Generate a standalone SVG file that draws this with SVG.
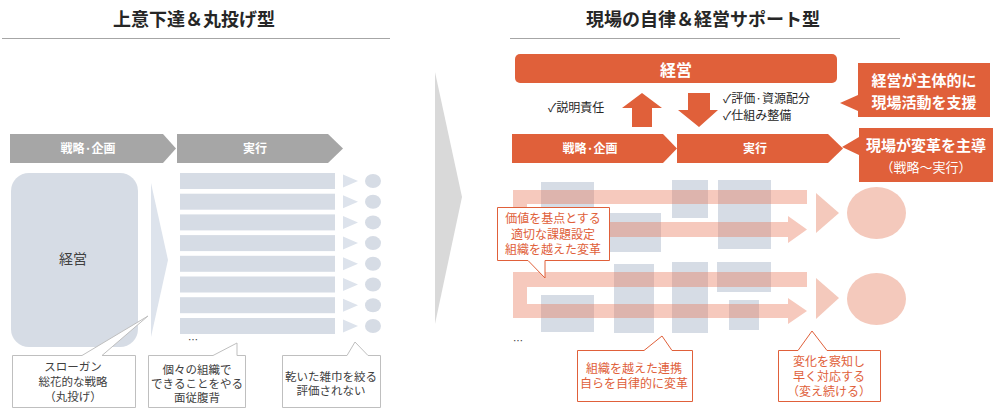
<svg xmlns="http://www.w3.org/2000/svg" width="1001" height="413" viewBox="0 0 1001 413">
<style>
text{font-family:"Noto Sans CJK JP","Noto Sans",sans-serif;}
.title{font-size:18px;font-weight:bold;fill:#262626;text-anchor:middle;}
.chevG{fill:#a6a6a6;}
.chevO{fill:#e0603a;}
.chevT{font-size:12px;font-weight:bold;fill:#fff;text-anchor:middle;}
.blue{fill:#d6dce5;}
.lblue{fill:#dde3ec;}
.gtxt{font-size:11.5px;fill:#404040;text-anchor:middle;}
.gcall{fill:#fff;stroke:#bfbfbf;stroke-width:1;}
.ocall{fill:#fff;stroke:#e0603a;stroke-width:1;}
.otxt{font-size:12px;fill:#e0603a;text-anchor:middle;}
.wtxt{font-size:15px;font-weight:bold;fill:#fff;text-anchor:middle;}
.band{fill:#e8785a;opacity:0.4;}
.pink{fill:#f4c9bc;}
.dtxt{font-size:12px;fill:#262626;}
</style>
<!-- titles -->
<g id="title-left">
<text class="title" x="194" y="26">上意下達＆丸投げ型</text>
<line x1="2" y1="38.5" x2="390" y2="38.5" stroke="#a6a6a6" stroke-width="1"/>
</g>
<g id="title-right">
<text class="title" x="703" y="26">現場の自律＆経営サポート型</text>
<line x1="510" y1="38.5" x2="900" y2="38.5" stroke="#a6a6a6" stroke-width="1"/>
</g>
<!-- big middle arrow -->
<g id="transition-arrow"><polygon points="435,72 462,197 435,324" fill="#d9d9d9"/></g>

<!-- LEFT PANEL -->
<g id="left-chev-strategy">
<polygon class="chevG" points="10,134 163,134 176,148.5 163,163 10,163"/>
<text class="chevT" x="88" y="153">戦略·企画</text>
</g>
<g id="left-chev-exec">
<polygon class="chevG" points="177,134 328,134 343,148.5 328,163 177,163"/>
<text class="chevT" x="255" y="153">実行</text>
</g>
<g id="left-mgmt">
<rect class="blue" x="11" y="173" width="127" height="174" rx="18"/>
<text x="73" y="264" font-size="14" fill="#404040" text-anchor="middle">経営</text>
</g>
<g id="left-wedge"><polygon class="lblue" points="151,183 168,260 151,337"/></g>
<g id="left-bars">
<rect class="blue" x="180" y="173" width="155" height="16"/>
<rect class="blue" x="180" y="193.7" width="155" height="16"/>
<rect class="blue" x="180" y="214.4" width="155" height="16"/>
<rect class="blue" x="180" y="235.1" width="155" height="16"/>
<rect class="blue" x="180" y="255.8" width="155" height="16"/>
<rect class="blue" x="180" y="276.5" width="155" height="16"/>
<rect class="blue" x="180" y="297.2" width="155" height="16"/>
<rect class="blue" x="180" y="318" width="155" height="16"/>
<text x="188" y="344" font-size="10" fill="#404040">…</text>
</g>
<g id="left-outcomes">
<polygon class="lblue" points="343,174.5 358,181 343,187.5"/><ellipse class="blue" cx="373" cy="181" rx="8" ry="7"/>
<polygon class="lblue" points="343,195.2 358,201.7 343,208.2"/><ellipse class="blue" cx="373" cy="201.7" rx="8" ry="7"/>
<polygon class="lblue" points="343,215.9 358,222.4 343,228.9"/><ellipse class="blue" cx="373" cy="222.4" rx="8" ry="7"/>
<polygon class="lblue" points="343,236.6 358,243.1 343,249.6"/><ellipse class="blue" cx="373" cy="243.1" rx="8" ry="7"/>
<polygon class="lblue" points="343,257.3 358,263.8 343,270.3"/><ellipse class="blue" cx="373" cy="263.8" rx="8" ry="7"/>
<polygon class="lblue" points="343,278 358,284.5 343,291"/><ellipse class="blue" cx="373" cy="284.5" rx="8" ry="7"/>
<polygon class="lblue" points="343,298.7 358,305.2 343,311.7"/><ellipse class="blue" cx="373" cy="305.2" rx="8" ry="7"/>
<polygon class="lblue" points="343,319.5 358,326 343,332.5"/><ellipse class="blue" cx="373" cy="326" rx="8" ry="7"/>
</g>
<g id="left-callout-1">
<path class="gcall" d="M12.5,355.5 H82 L148,316 L102,355.5 H135.5 V407.5 H12.5 Z"/>
<text class="gtxt" x="73" y="371">スローガン</text>
<text class="gtxt" x="73" y="386">総花的な戦略</text>
<text class="gtxt" x="73" y="401">（丸投げ）</text>
</g>
<g id="left-callout-2">
<path class="gcall" d="M148.5,355.5 H213 L237,343 V355.5 H245.5 V407.5 H148.5 Z"/>
<text class="gtxt" x="197" y="374">個々の組織で</text>
<text class="gtxt" x="197" y="388">できることをやる</text>
<text class="gtxt" x="197" y="402">面従腹背</text>
</g>
<g id="left-callout-3">
<path class="gcall" d="M282.5,355.5 H347 L355,342 L368,355.5 H380.5 V407.5 H282.5 Z"/>
<text class="gtxt" x="331" y="381">乾いた雑巾を絞る</text>
<text class="gtxt" x="331" y="395">評価されない</text>
</g>

<!-- RIGHT PANEL -->
<g id="right-mgmt">
<rect class="chevO" x="515" y="54" width="322" height="29" rx="5"/>
<text x="676" y="76" font-size="16" font-weight="bold" fill="#fff" text-anchor="middle">経営</text>
</g>
<g id="connectors">
<polygon class="chevO" points="642,93 662,108 652,108 652,127 632,127 632,108 622,108"/>
<polygon class="chevO" points="688,93 710,93 710,110 718,110 699,127 678,110 688,110"/>
</g>
<g id="label-accountability"><text class="dtxt" x="548" y="112">✓説明責任</text></g>
<g id="label-support">
<text class="dtxt" x="723" y="103">✓評価·資源配分</text>
<text class="dtxt" x="723" y="120">✓仕組み整備</text>
</g>
<g id="right-chev-strategy">
<polygon class="chevO" points="512,134 663,134 677,148.5 663,163 512,163"/>
<text class="chevT" x="590" y="153">戦略·企画</text>
</g>
<g id="right-chev-exec">
<polygon class="chevO" points="677,134 828,134 843,148.5 828,163 677,163"/>
<text class="chevT" x="755" y="153">実行</text>
</g>
<g id="callout-support">
<path class="chevO" d="M858,63 H990 V117 H858 V111 L840,103 L858,95 Z"/>
<text class="wtxt" x="924" y="85.5">経営が主体的に</text>
<text class="wtxt" x="924" y="107.5">現場活動を支援</text>
</g>
<g id="callout-lead">
<path class="chevO" d="M859,128 H993 V182 H859 V155 L842,147 L859,137 Z"/>
<text class="wtxt" x="926" y="150.5">現場が変革を主導</text>
<text x="926" y="171.5" font-size="13" fill="#fff" text-anchor="middle">（戦略～実行）</text>
</g>
<g id="org-blocks">
<rect class="blue" x="541" y="182" width="53" height="31"/>
<rect class="blue" x="610" y="213" width="51" height="39"/>
<rect class="blue" x="672" y="180" width="36" height="38"/>
<rect class="blue" x="718" y="180" width="53" height="69"/>
<rect class="blue" x="541" y="295" width="53" height="37"/>
<rect class="blue" x="614" y="264" width="40" height="69"/>
<rect class="blue" x="672" y="262" width="36" height="71"/>
<rect class="blue" x="717" y="262" width="54" height="30"/>
<rect class="blue" x="729" y="300" width="30" height="30"/>
</g>
<g id="flow-upper">
<path class="band" d="M513,190 H807 V204 H527 V222 H788 V216 L807,229.5 L788,243 V237 H513 Z"/>
<polygon class="pink" points="816,193 839,213 816,233"/>
<ellipse class="pink" cx="876.5" cy="213" rx="29.5" ry="26"/>
</g>
<g id="flow-lower">
<path class="band" d="M513,272 H807 V287 H527 V304 H788 V298 L807,311 L788,324 V318 H513 Z"/>
<polygon class="pink" points="816,278 839,298 816,319"/>
<ellipse class="pink" cx="876.5" cy="299" rx="29.5" ry="26"/>
</g>
<text x="513" y="345" font-size="10" fill="#404040">…</text>
<g id="callout-value">
<path class="ocall" d="M497.5,207.5 H609.5 V260.5 H545 L545,278 L528,260.5 H497.5 Z"/>
<text class="otxt" x="553" y="223">価値を基点とする</text>
<text class="otxt" x="553" y="239">適切な課題設定</text>
<text class="otxt" x="553" y="254">組織を越えた変革</text>
</g>
<g id="callout-collab">
<path class="ocall" d="M577.5,350.5 H644 L662,336 L672,350.5 H692.5 V401.5 H577.5 Z"/>
<text class="otxt" x="634" y="373">組織を越えた連携</text>
<text class="otxt" x="634" y="388">自らを自律的に変革</text>
</g>
<g id="callout-change">
<path class="ocall" d="M778.5,350.5 H798 L812,331 L827,350.5 H880.5 V401.5 H778.5 Z"/>
<text class="otxt" x="829" y="366">変化を察知し</text>
<text class="otxt" x="829" y="381">早く対応する</text>
<text class="otxt" x="829" y="396">（変え続ける）</text>
</g>
</svg>
